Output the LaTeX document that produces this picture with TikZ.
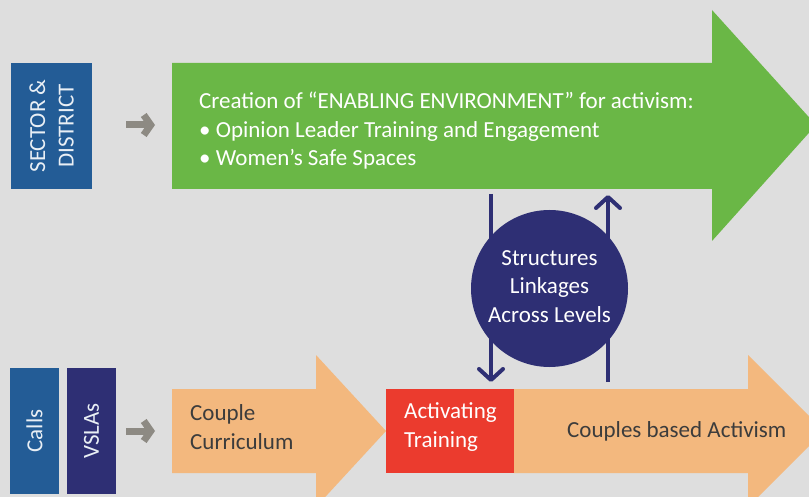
\documentclass[tikz,border=0pt]{standalone}
\usepackage{fontspec}
\setmainfont{Carlito}
\usetikzlibrary{arrows.meta,positioning}

\definecolor{bgGray}{RGB}{222,222,222}
\definecolor{sectorBlue}{RGB}{35,92,150}
\definecolor{navy}{RGB}{46,47,116}
\definecolor{leafGreen}{RGB}{106,183,70}
\definecolor{peach}{RGB}{243,184,126}
\definecolor{signalRed}{RGB}{235,59,46}
\definecolor{arrowGray}{RGB}{141,138,131}
\definecolor{darkText}{RGB}{60,60,60}

\tikzset{
    levelbox/.style={rotate=90,inner sep=0pt,minimum width=126pt,text=white!90!sectorBlue,align=center},
    bodytext/.style={anchor=west,align=left,inner sep=0pt},
    linkarrow/.style={navy,line width=4pt,-{Straight Barb[length=11pt,width=24pt,round]}},
    pointer/.style={arrowGray,line width=7pt,-{Straight Barb[length=7pt,width=20pt]}}
}

\begin{document}
\begin{tikzpicture}[x=1pt,y=-1pt,font=\fontsize{23}{28.5}\selectfont]
    \useasboundingbox (0,0) rectangle (809,497);
    \fill [bgGray] (0,0) rectangle (809,497);
    \clip (0,0) rectangle (809,497);

    % level labels
    \node [levelbox,fill=sectorBlue,minimum height=81pt] (sector) at (51.5,126) {SECTOR \&\\DISTRICT};
    \node [levelbox,fill=sectorBlue,minimum height=49pt] (calls)  at (34.5,431) {Calls};
    \node [levelbox,fill=navy,minimum height=49pt]       (vslas)  at (91.5,431) {VSLAs};

    \foreach \y/\name in {125/top,431/bottom}{%
        \coordinate (\name Start) at (126,\y);
        \coordinate (\name End)   at (155,\y);
        \draw [pointer] (\name Start) -- (\name End);
    }

    % enabling environment arrow
    \fill [leafGreen] (172,63) -- (712,63) -- (712,10) -- (816,125)
        -- (712,241) -- (712,189) -- (172,189) -- cycle;
    \node [bodytext,text=white] (environment) at (199,131)
        {Creation of “ENABLING ENVIRONMENT” for activism:\\
         • Opinion Leader Training and Engagement\\
         • Women’s Safe Spaces};

    % couple level arrows
    \fill [peach] (172,389) -- (316,389) -- (316,355) -- (386,431)
        -- (316,507) -- (316,473) -- (172,473) -- cycle;
    \fill [peach] (514,389) -- (748,389) -- (748,355) -- (824,431)
        -- (748,507) -- (748,473) -- (514,473) -- cycle;
    \node [fill=signalRed,minimum width=128pt,minimum height=84pt,inner sep=0pt] (training) at (450,431) {};

    \node [bodytext,text=darkText] (curriculum) at (190,427) {Couple\\Curriculum};
    \node [bodytext,text=white]    (activating) at (404,427) {Activating\\Training};
    \node [bodytext,text=darkText] (activism)   at (567,431) {Couples based Activism};

    % links across levels
    \coordinate (greenLow)  at (491,194);
    \coordinate (peachHigh) at (491,382);
    \coordinate (peachUp)   at (608,382);
    \coordinate (greenHigh) at (608,195);
    \draw [linkarrow] (greenLow) -- (peachHigh);
    \draw [linkarrow] (peachUp) -- (greenHigh);

    \node [circle,fill=navy,minimum size=157pt,inner sep=0pt] (links) at (549.5,288.5) {};
    \node [text=white,align=center,inner sep=0pt] (linksText) at (549.5,286.5)
        {Structures\\Linkages\\Across Levels};

\end{tikzpicture}
\end{document}
